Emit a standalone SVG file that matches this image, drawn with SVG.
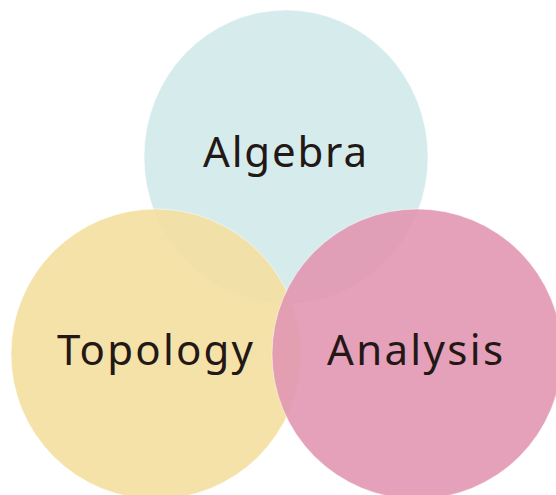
<svg xmlns="http://www.w3.org/2000/svg" width="556" height="495" viewBox="0 0 556 495">
<style>
.c{stroke:#ffffff;stroke-width:0.8;stroke-opacity:0.6}
.t{font-family:"Noto Sans","DejaVu Sans",sans-serif;font-size:42px;fill:#231815;text-anchor:middle}
</style>
<rect width="556" height="495" fill="#ffffff"/>
<g id="algebra">
<ellipse class="c" cx="286" cy="157" rx="142" ry="147" fill="#d6ecec"/>
<text class="t" x="285" y="167" textLength="164" lengthAdjust="spacing">Algebra</text>
</g>
<g id="topology">
<circle class="c" cx="156" cy="354" r="145" fill="#f4dfa0" fill-opacity="0.9"/>
<text class="t" x="155" y="365" textLength="196" lengthAdjust="spacing">Topology</text>
</g>
<g id="analysis">
<circle class="c" cx="417" cy="354" r="145" fill="#e197b1" fill-opacity="0.9"/>
<text class="t" x="415" y="365" textLength="176" lengthAdjust="spacing">Analysis</text>
</g>
<g id="connectors"/>
</svg>
